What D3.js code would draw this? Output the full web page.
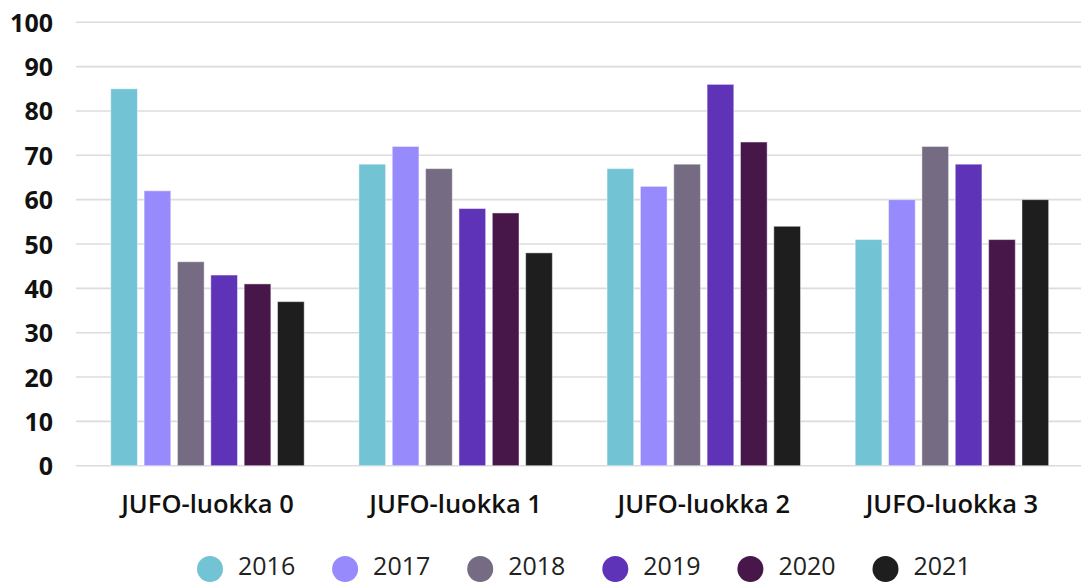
<!DOCTYPE html>
<html>
<head>
<meta charset="utf-8">
<script src="https://cdn.jsdelivr.net/npm/d3@7"></script>
<style>
  html, body { margin: 0; padding: 0; background: #fff; }
  svg { display: block; font-family: "Open Sans", "Noto Sans", sans-serif; }
</style>
</head>
<body>
<svg id="chart" width="1081" height="583"></svg>
<script>
const categories = ["JUFO-luokka 0", "JUFO-luokka 1", "JUFO-luokka 2", "JUFO-luokka 3"];
const years = ["2016", "2017", "2018", "2019", "2020", "2021"];
const values2016 = [85, 68, 67, 51];
const values2017 = [62, 72, 63, 60];
const values2018 = [46, 67, 68, 72];
const values2019 = [43, 58, 86, 68];
const values2020 = [41, 57, 73, 51];
const values2021 = [37, 48, 54, 60];
const colors = ["#72c3d4", "#978afc", "#756b83", "#5f33b8", "#48174a", "#1e1e1e"];
const yTicks = [0, 10, 20, 30, 40, 50, 60, 70, 80, 90, 100];

const seriesValues = [values2016, values2017, values2018, values2019, values2020, values2021];
const data = categories.map((c, i) => ({
  category: c,
  values: years.map((y, j) => ({ year: y, value: seriesValues[j][i], color: colors[j] }))
}));

const svg = d3.select("#chart");
const gridLeft = 76, gridRight = 1081;
const x0 = d3.scaleBand().domain(categories).range([83.4, 1076]).paddingInner(0).paddingOuter(0);
const x1 = d3.scaleBand().domain(years).range([0, x0.bandwidth()]).paddingInner(0.2).paddingOuter(0.82);
const y = d3.scaleLinear().domain([0, 100]).range([465.7, 22.3]);

// gridlines
svg.append("g").selectAll("line").data(yTicks).join("line")
  .attr("x1", gridLeft).attr("x2", gridRight)
  .attr("y1", d => y(d)).attr("y2", d => y(d))
  .attr("stroke", "#dcdcdc").attr("stroke-width", 1.6);

// y axis labels
const yAxis = d3.axisLeft(y).tickValues(yTicks).tickSize(0).tickPadding(0);
const yg = svg.append("g").attr("transform", "translate(53,0)").call(yAxis);
yg.select(".domain").remove();
yg.selectAll("text")
  .attr("font-family", "Open Sans").attr("font-weight", 700).attr("font-size", 25)
  .attr("fill", "#111").attr("dy", "0.36em");

// bars
const groups = svg.append("g").selectAll("g").data(data).join("g")
  .attr("transform", d => `translate(${x0(d.category)},0)`);
groups.selectAll("rect").data(d => d.values).join("rect")
  .attr("x", d => x1(d.year))
  .attr("width", x1.bandwidth())
  .attr("y", d => y(d.value))
  .attr("height", d => y(0) - y(d.value))
  .attr("fill", d => d.color)
  .attr("stroke", "rgba(255,255,255,0.45)")
  .attr("stroke-width", 1);

// category labels
const xAxis = d3.axisBottom(x0).tickSize(0).tickPadding(0);
const xg = svg.append("g").attr("transform", `translate(0,${y(0)})`).call(xAxis);
xg.select(".domain").remove();
xg.selectAll("text")
  .attr("font-family", "Open Sans").attr("font-weight", 600).attr("font-size", 25.5)
  .attr("fill", "#111").attr("y", 47.5).attr("dy", 0);

// legend
const legendX = d3.scalePoint().domain(years).range([210, 885.5]);
const lg = svg.append("g").selectAll("g").data(years).join("g")
  .attr("transform", d => `translate(${legendX(d)},569)`);
lg.append("circle").attr("r", 13).attr("fill", (d, i) => colors[i]);
lg.append("text").attr("x", 28).attr("y", 6)
  .attr("font-family", "Open Sans").attr("font-size", 25).attr("fill", "#222")
  .text(d => d);
</script>
</body>
</html>
